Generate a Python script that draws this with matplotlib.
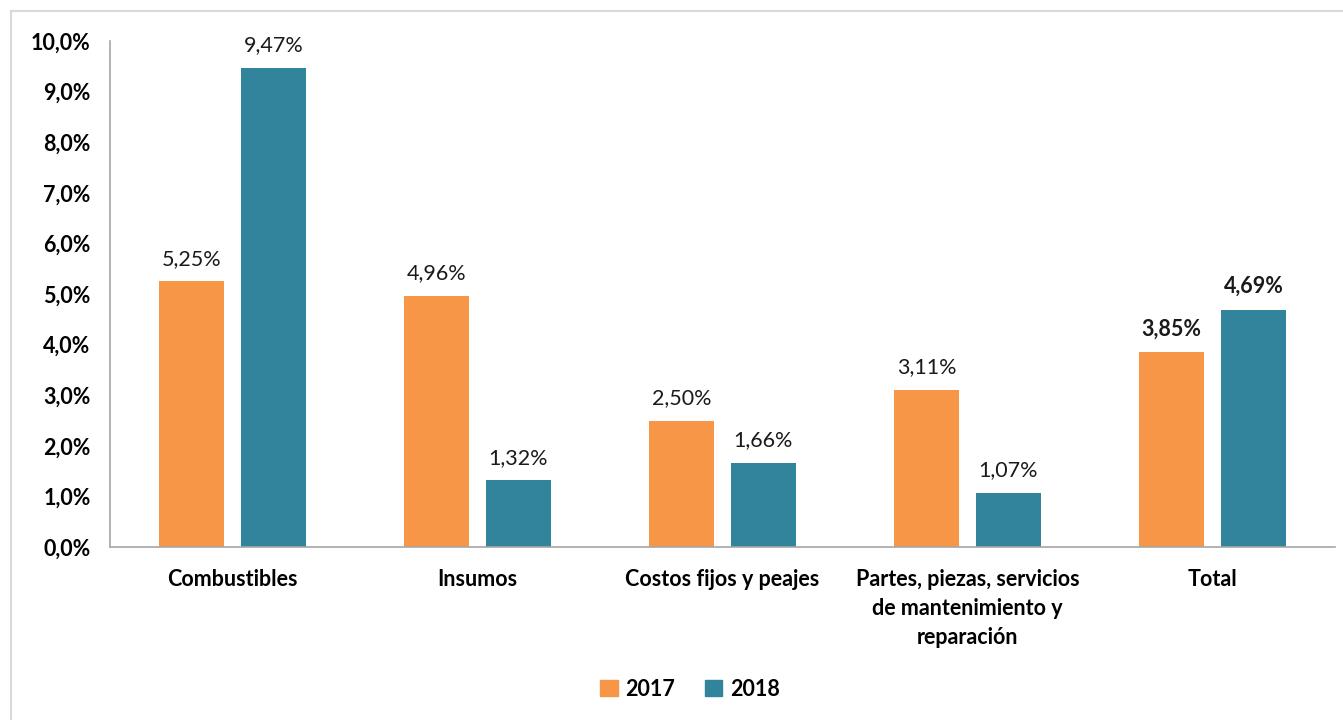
import matplotlib
matplotlib.use("Agg")
import matplotlib.pyplot as plt
from matplotlib.lines import Line2D
from matplotlib.patches import Patch
import numpy as np

categories = ["Combustibles", "Insumos", "Costos fijos y peajes",
              "Partes, piezas, servicios\nde mantenimiento y\nreparación", "Total"]
series_names = ["2017", "2018"]
values_2017 = [5.25, 4.96, 2.50, 3.11, 3.85]
values_2018 = [9.47, 1.32, 1.66, 1.07, 4.69]
yticks = [0, 1, 2, 3, 4, 5, 6, 7, 8, 9, 10]

colors = ["#F79646", "#31849B"]
plt.rcParams['font.family'] = ['Lato', 'DejaVu Sans']
FS = 15.5

fig = plt.figure(figsize=(13.43, 7.2), dpi=100)
ax = fig.add_axes([110/1343, 1-547/720, (1335-110)/1343, (547-41)/720])

x = np.arange(len(categories))
w = 0.262
off = 0.167
b1 = ax.bar(x - off, values_2017, w, color=colors[0], label=series_names[0])
b2 = ax.bar(x + off, values_2018, w, color=colors[1], label=series_names[1])

def fmt(v):
    return f"{v:.2f}%".replace(".", ",")

for i, (r1, r2) in enumerate(zip(b1, b2)):
    bold = categories[i] == "Total"
    for r, v in ((r1, values_2017[i]), (r2, values_2018[i])):
        ax.annotate(fmt(v), (r.get_x() + r.get_width()/2, v), xytext=(0, 9),
                    textcoords="offset points", ha="center", va="bottom",
                    fontsize=FS, fontweight="bold" if bold else "normal", color="#1a1a1a")

ax.set_xlim(-0.5, len(categories) - 0.5)
ax.set_ylim(0, 10)
ax.set_yticks(yticks)
ax.set_yticklabels([f"{t:.1f}%".replace(".", ",") for t in yticks], fontsize=FS, fontweight="bold")
ax.set_xticks(x)
ax.set_xticklabels(categories, fontsize=FS, fontweight="bold", linespacing=1.45, va="top")
ax.tick_params(axis="both", length=0)
ax.tick_params(axis="x", pad=16)
ax.tick_params(axis="y", pad=14)
for s in ["top", "right"]:
    ax.spines[s].set_visible(False)
for s in ["left", "bottom"]:
    ax.spines[s].set_color("#A6A6A6")
    ax.spines[s].set_linewidth(1.2)

handles = [Patch(color=colors[0], label=series_names[0]), Patch(color=colors[1], label=series_names[1])]
leg = fig.legend(handles=handles, loc="center", bbox_to_anchor=(690/1343, 1-689/720), ncol=2,
                 frameon=False, prop={"size": FS, "weight": "bold"},
                 handlelength=0.8, handleheight=0.8, handletextpad=0.35, columnspacing=1.4)

fig.add_artist(Line2D([11/1343, 11/1343], [0, 1-11/720], color="#D9D9D9", lw=1.5, transform=fig.transFigure))
fig.add_artist(Line2D([11/1343, 1], [1-11/720, 1-11/720], color="#D9D9D9", lw=1.5, transform=fig.transFigure))

fig.savefig("out.png", dpi=100, facecolor="white")
